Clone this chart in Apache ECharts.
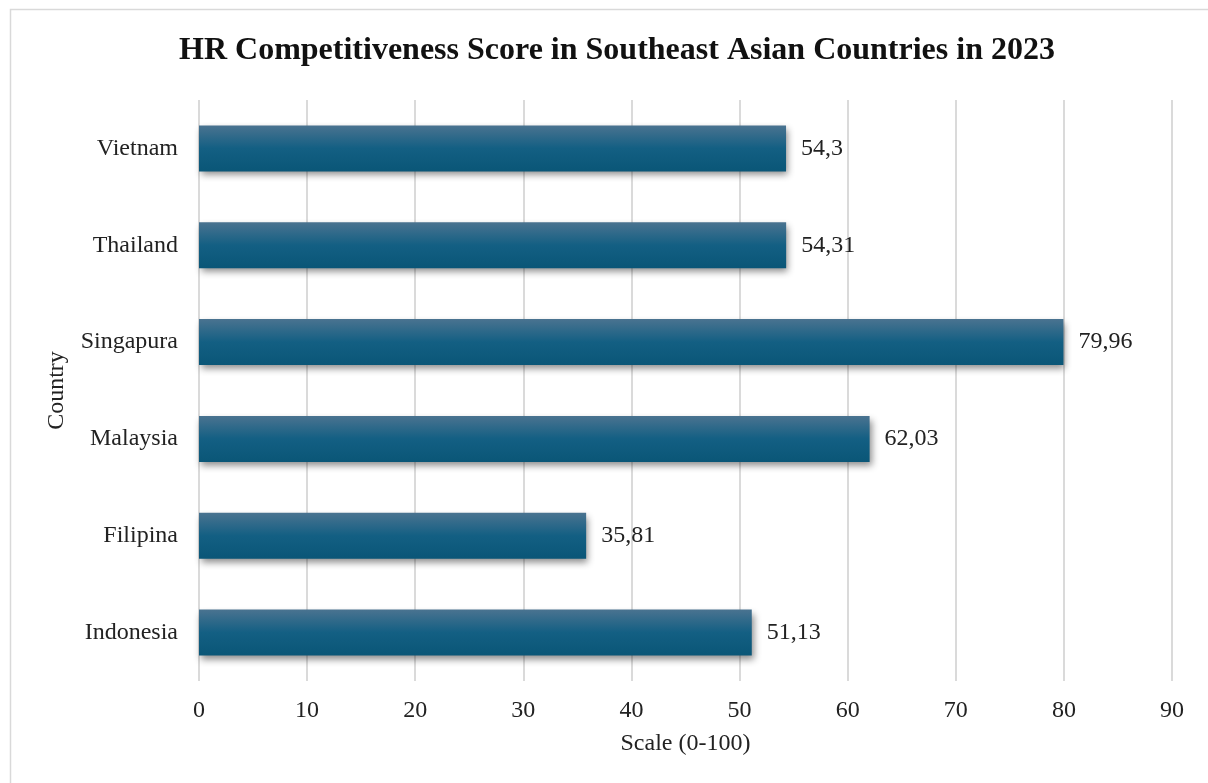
<!DOCTYPE html>
<html>
<head>
<meta charset="utf-8">
<script src="https://cdn.jsdelivr.net/npm/echarts@6/dist/echarts.min.js"></script>
<style>
html,body{margin:0;padding:0;background:#fff;}
#c{width:1208px;height:783px;}
</style>
</head>
<body>
<div id="c"></div>
<script>
const categories = ['Indonesia', 'Filipina', 'Malaysia', 'Singapura', 'Thailand', 'Vietnam'];
const scores = [51.13, 35.81, 62.03, 79.96, 54.31, 54.3];
const scoreLabels = ['51,13', '35,81', '62,03', '79,96', '54,31', '54,3'];
const xTicks = [0, 10, 20, 30, 40, 50, 60, 70, 80, 90];

const font = '"Liberation Serif", "Times New Roman", serif';
const chart = echarts.init(document.getElementById('c'));
chart.setOption({
  animation: false,
  backgroundColor: '#fff',
  textStyle: { fontFamily: font },
  graphic: [{
    type: 'rect', silent: true,
    shape: { x: 10.5, y: 9.5, width: 1400, height: 1000 },
    style: { fill: 'none', stroke: '#d9d9d9', lineWidth: 1.5 }
  }],
  title: {
    text: 'HR Competitiveness Score in Southeast Asian Countries in 2023',
    left: 612, top: 30, textAlign: 'center',
    textStyle: { fontFamily: font, fontSize: 32, fontWeight: 'bold', color: '#111' }
  },
  grid: { left: 199, right: 36, top: 100, bottom: 102, containLabel: false },
  xAxis: {
    type: 'value', min: 0, max: xTicks[xTicks.length - 1], interval: 10,
    name: 'Scale (0-100)', nameLocation: 'middle', nameGap: 51,
    nameTextStyle: { fontFamily: font, fontSize: 24, color: '#222' },
    axisLine: { show: false }, axisTick: { show: false },
    axisLabel: { fontFamily: font, fontSize: 24, color: '#222', margin: 18 },
    splitLine: { show: true, lineStyle: { color: '#dadada', width: 2 } }
  },
  yAxis: {
    type: 'category', data: categories,
    name: 'Country', nameLocation: 'middle', nameGap: 130, nameRotate: 90,
    nameTextStyle: { fontFamily: font, fontSize: 24, color: '#222' },
    axisLine: { show: false }, axisTick: { show: false },
    axisLabel: { fontFamily: font, fontSize: 24, color: '#222', margin: 21, padding: [5, 0, 0, 0] }
  },
  series: [{
    type: 'bar', data: scores, barWidth: '47.5%',
    itemStyle: {
      color: new echarts.graphic.LinearGradient(0, 0, 0, 1, [
        { offset: 0, color: '#4a7390' },
        { offset: 0.5, color: '#135f83' },
        { offset: 1, color: '#0a5677' }
      ]),
      shadowColor: 'rgba(0,0,0,0.45)', shadowBlur: 7, shadowOffsetX: 2, shadowOffsetY: 4
    },
    label: {
      show: true, position: 'right', distance: 15, padding: [5, 0, 0, 0],
      fontFamily: font, fontSize: 24, color: '#222',
      formatter: p => scoreLabels[p.dataIndex]
    }
  }]
});
</script>
</body>
</html>
